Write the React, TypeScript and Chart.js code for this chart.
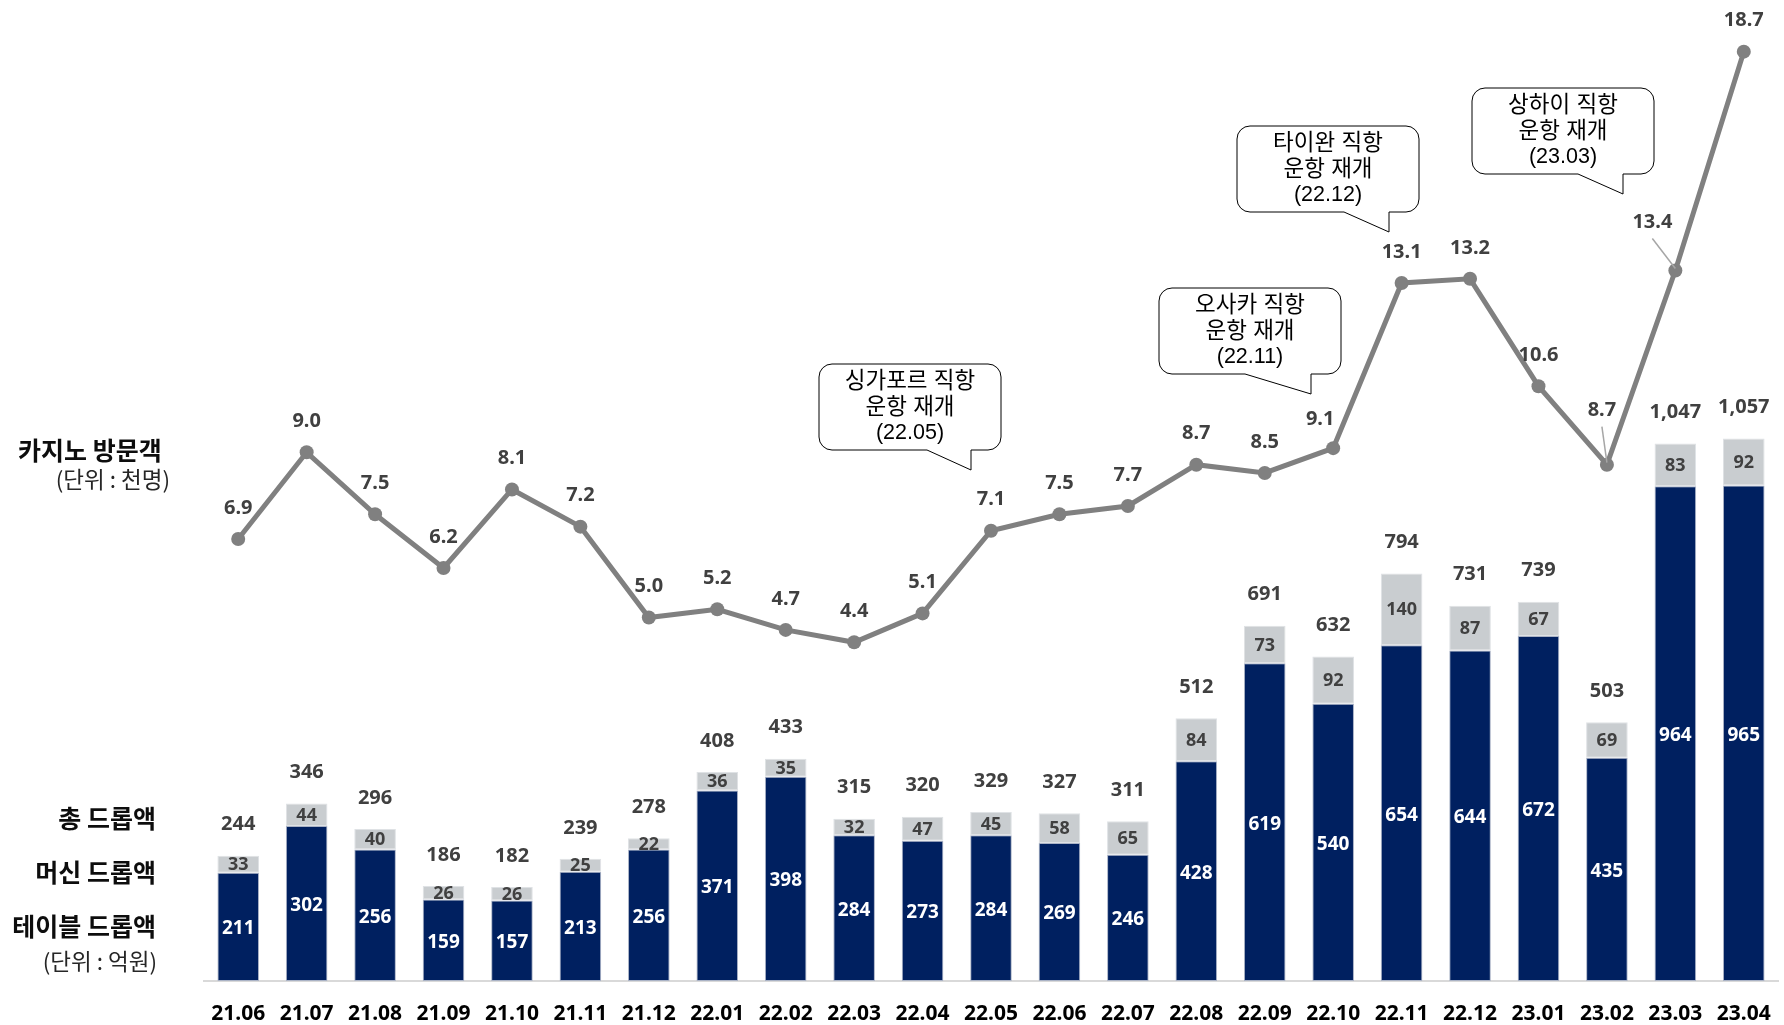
import { useEffect, useRef } from 'react';
import { Chart, registerables } from 'chart.js';

Chart.register(...registerables);

const months = ['21.06','21.07','21.08','21.09','21.10','21.11','21.12','22.01','22.02','22.03','22.04','22.05','22.06','22.07','22.08','22.09','22.10','22.11','22.12','23.01','23.02','23.03','23.04'];
const tableDrop = [211,302,256,159,157,213,256,371,398,284,273,284,269,246,428,619,540,654,644,672,435,964,965];
const machineDrop = [33,44,40,26,26,25,22,36,35,32,47,45,58,65,84,73,92,140,87,67,69,83,92];
const totalDrop = [244,346,296,186,182,239,278,408,433,315,320,329,327,311,512,691,632,794,731,739,503,1047,1057];
const visitors = [6.9,9.0,7.5,6.2,8.1,7.2,5.0,5.2,4.7,4.4,5.1,7.1,7.5,7.7,8.7,8.5,9.1,13.1,13.2,10.6,8.7,13.4,18.7];

const calloutTexts = [
  ['싱가포르 직항', '운항 재개', '(22.05)'],
  ['오사카 직항', '운항 재개', '(22.11)'],
  ['타이완 직항', '운항 재개', '(22.12)'],
  ['상하이 직항', '운항 재개', '(23.03)'],
];

const leftTitleTop = ['카지노 방문객', '(단위 : 천명)'];
const leftTitleBottom = ['총 드롭액', '머신 드롭액', '테이블 드롭액', '(단위 : 억원)'];

const NUM_FONT = '"Noto Sans", "Noto Sans CJK KR", sans-serif';
const KR_FONT = '"Noto Sans CJK KR", "Noto Sans", sans-serif';
const CALLOUT_FONT = '"Liberation Sans", "Noto Sans CJK KR", sans-serif';

// layout of the annotation boxes (left, top, tail base start offset, tail tip offset)
const calloutLayout = [
  { left: 819, top: 364, tailStart: 108, tailTip: 152 },
  { left: 1159, top: 288, tailStart: 86, tailTip: 152 },
  { left: 1237, top: 126, tailStart: 107, tailTip: 152 },
  { left: 1472, top: 88, tailStart: 106, tailTip: 151 },
];

const labelPlugin = {
  id: 'customLabels',
  afterDatasetsDraw(chart: any) {
    const ctx = chart.ctx as CanvasRenderingContext2D;
    const tableMeta = chart.getDatasetMeta(0);
    const machineMeta = chart.getDatasetMeta(1);
    const lineMeta = chart.getDatasetMeta(2);
    ctx.save();
    ctx.textAlign = 'center';
    ctx.textBaseline = 'middle';

    // bar labels
    for (let i = 0; i < months.length; i++) {
      const tb = tableMeta.data[i];
      const mb = machineMeta.data[i];
      ctx.font = `bold 19px ${NUM_FONT}`;
      ctx.fillStyle = '#ffffff';
      ctx.fillText(String(tableDrop[i]), tb.x, (tb.y + tb.base) / 2 + 2);
      ctx.font = `bold 18px ${NUM_FONT}`;
      ctx.fillStyle = '#404040';
      ctx.fillText(String(machineDrop[i]), mb.x, (mb.y + mb.base) / 2 + 1);
      ctx.font = `bold 20px ${NUM_FONT}`;
      ctx.fillText(totalDrop[i].toLocaleString('en-US'), mb.x, mb.y - 31);
    }

    // line labels
    ctx.font = `bold 20px ${NUM_FONT}`;
    ctx.fillStyle = '#404040';
    for (let i = 0; i < visitors.length; i++) {
      const p = lineMeta.data[i];
      let dx = 0;
      let dy = -31;
      let leader = false;
      if (i === 16) { dx = -13; dy = -29; }
      if (i === 20) { dx = -5; dy = -54; leader = true; }
      if (i === 21) { dx = -23; dy = -48; leader = true; }
      const lx = p.x + dx;
      const ly = p.y + dy;
      if (leader) {
        ctx.strokeStyle = '#a6a6a6';
        ctx.lineWidth = 1.5;
        ctx.beginPath();
        ctx.moveTo(lx, ly + 16);
        ctx.lineTo(p.x, p.y - 2);
        ctx.stroke();
      }
      ctx.fillText(visitors[i].toFixed(1), lx, ly);
    }

    // callouts
    const w = 182, h = 86, r = 13, tailDepth = 20;
    calloutLayout.forEach((c, k) => {
      const L = c.left, T = c.top, R = L + w, B = T + h;
      ctx.beginPath();
      ctx.moveTo(L + r, T);
      ctx.lineTo(R - r, T);
      ctx.arcTo(R, T, R, T + r, r);
      ctx.lineTo(R, B - r);
      ctx.arcTo(R, B, R - r, B, r);
      ctx.lineTo(L + c.tailTip, B);
      ctx.lineTo(L + c.tailTip, B + tailDepth);
      ctx.lineTo(L + c.tailStart, B);
      ctx.lineTo(L + r, B);
      ctx.arcTo(L, B, L, B - r, r);
      ctx.lineTo(L, T + r);
      ctx.arcTo(L, T, L + r, T, r);
      ctx.closePath();
      ctx.fillStyle = '#ffffff';
      ctx.fill();
      ctx.strokeStyle = '#000000';
      ctx.lineWidth = 1;
      ctx.stroke();
      ctx.fillStyle = '#000000';
      calloutTexts[k].forEach((t, j) => {
        ctx.font = j < 2 ? `22.5px ${CALLOUT_FONT}` : `21.5px ${CALLOUT_FONT}`;
        ctx.fillText(t, L + w / 2, T + 18 + j * 25.5);
      });
    });

    // left titles
    ctx.textAlign = 'left';
    ctx.fillStyle = '#0d0d0d';
    ctx.font = `bold 25px ${KR_FONT}`;
    ctx.fillText(leftTitleTop[0], 18, 450);
    ctx.textAlign = 'right';
    ctx.fillStyle = '#262626';
    ctx.font = `22.5px ${KR_FONT}`;
    ctx.fillText(leftTitleTop[1], 170, 479);

    ctx.fillStyle = '#0d0d0d';
    ctx.font = `bold 25px ${KR_FONT}`;
    ctx.fillText(leftTitleBottom[0], 156, 818);
    ctx.fillText(leftTitleBottom[1], 156, 872);
    ctx.fillText(leftTitleBottom[2], 156, 926);
    ctx.fillStyle = '#262626';
    ctx.font = `22.5px ${KR_FONT}`;
    ctx.fillText(leftTitleBottom[3], 157, 961);
    ctx.restore();
  },
};

export default function App() {
  const ref = useRef<HTMLCanvasElement>(null);
  useEffect(() => {
    document.body.style.margin = '0';
    const canvas = ref.current!;
    const chart = new Chart(canvas, {
      type: 'bar',
      data: {
        labels: months,
        datasets: [
          {
            type: 'bar',
            label: '테이블 드롭액',
            data: tableDrop,
            backgroundColor: '#002060',
            borderColor: '#aab3c6',
            borderWidth: 1,
            borderSkipped: false,
            yAxisID: 'y',
            stack: 's',
            barPercentage: 0.608,
            categoryPercentage: 1,
            order: 2,
          },
          {
            type: 'bar',
            label: '머신 드롭액',
            data: machineDrop,
            backgroundColor: '#c9cdd0',
            borderColor: '#dfe2e5',
            borderWidth: 1,
            borderSkipped: false,
            yAxisID: 'y',
            stack: 's',
            barPercentage: 0.608,
            categoryPercentage: 1,
            order: 2,
          },
          {
            type: 'line',
            label: '카지노 방문객',
            data: visitors,
            borderColor: '#808080',
            backgroundColor: '#808080',
            borderWidth: 5,
            pointRadius: 7,
            pointBackgroundColor: '#808080',
            pointBorderWidth: 0,
            tension: 0,
            clip: false,
            yAxisID: 'y1',
            order: 1,
          },
        ],
      },
      options: {
        animation: false,
        responsive: false,
        devicePixelRatio: 1,
        layout: { autoPadding: false, padding: { left: 204, right: 6, top: 0, bottom: 0 } },
        plugins: { legend: { display: false }, tooltip: { enabled: false } },
        scales: {
          x: {
            stacked: true,
            offset: true,
            grid: { display: false, drawTicks: false },
            border: { display: true, color: '#d9d9d9', width: 2 },
            ticks: {
              color: '#000000',
              font: { family: NUM_FONT, size: 21, weight: 'bold' },
              padding: 20,
              maxRotation: 0,
              autoSkip: false,
            },
            afterFit: (s: any) => {
              s.height = 44;
              s.paddingLeft = 0;
              s.paddingRight = 0;
            },
          },
          y: { display: false, stacked: true, min: 0, max: 1911 },
          y1: { display: false, min: -3.8, max: 19.95 },
        },
      },
      plugins: [labelPlugin],
    } as any);
    return () => chart.destroy();
  }, []);
  return (
    <div style={{ position: 'relative', width: 1784, height: 1025, background: '#ffffff' }}>
      <canvas ref={ref} width={1784} height={1025} style={{ width: 1784, height: 1025, display: 'block' }} />
    </div>
  );
}
